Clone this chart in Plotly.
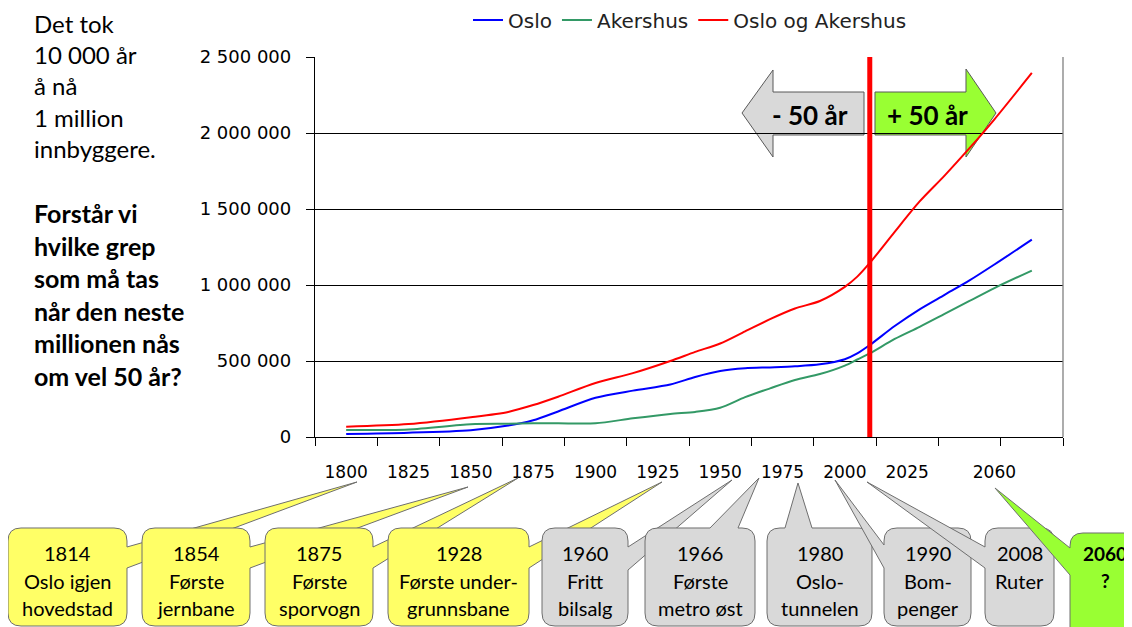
import plotly.graph_objects as go

# ---------------- data ----------------
years = [1800, 1825, 1850, 1865, 1875, 1885, 1900, 1915, 1930, 1940, 1950, 1960,
         1970, 1980, 1990, 2000, 2005, 2010, 2020, 2030, 2040, 2050, 2060, 2075]
oslo = [20000, 28000, 45000, 75000, 110000, 168000, 258000, 305000, 345000, 395000,
        434000, 452000, 458000, 465000, 478000, 512000, 550000, 605000, 730000,
        840000, 935000, 1030000, 1135000, 1298000]
akershus = [46000, 50000, 84000, 87000, 90000, 90000, 90000, 123000, 152000, 165000,
            192000, 262000, 320000, 375000, 414000, 470000, 510000, 550000, 645000,
            725000, 810000, 895000, 980000, 1095000]
oslo_og_akershus = [68000, 85000, 130000, 165000, 210000, 265000, 355000, 420000,
                    500000, 560000, 615000, 695000, 775000, 845000, 895000, 988000,
                    1055000, 1145000, 1350000, 1550000, 1720000, 1900000, 2090000,
                    2395000]
series_names = ["Oslo", "Akershus", "Oslo og Akershus"]

x_label_years = [1800, 1825, 1850, 1875, 1900, 1925, 1950, 1975, 2000, 2025, 2060]
x_label_text = ["1800", "1825", "1850", "1875", "1900", "1925", "1950", "1975",
                "2000", "2025", "2060"]
y_tick_vals = [0, 500000, 1000000, 1500000, 2000000, 2500000]
y_tick_text = ["0", "500 000", "1 000 000", "1 500 000", "2 000 000", "2 500 000"]

now_year = 2010

callout_titles = ["1814", "1854", "1875", "1928", "1960", "1966", "1980", "1990",
                  "2008", "2060"]
callout_lines = [["Oslo igjen", "hovedstad"], ["Første", "jernbane"],
                 ["Første", "sporvogn"], ["Første under-", "grunnsbane"],
                 ["Fritt", "bilsalg"], ["Første", "metro øst"],
                 ["Oslo-", "tunnelen"], ["Bom-", "penger"], ["Ruter"], ["?"]]

left_text_1 = ["Det tok", "10 000 år", "å nå", "1 million", "innbyggere."]
left_text_2 = ["Forstår vi", "hvilke grep", "som må tas", "når den neste",
               "millionen nås", "om vel 50 år?"]

# ---------------- layout helpers ----------------
W, H = 1132, 627
OFF = 8  # page body margin
PL, PR, PT, PB = 315 - OFF, 1063 - OFF, 57 - OFF, 437 - OFF


def px(x):
    return (x - OFF - PL) / (PR - PL)


def py(y):
    return (PB - (y - OFF)) / (PB - PT)


def P(x, y):
    return f"{px(x):.5f},{py(y):.5f}"


def callout_path(x0, x1, y0, y1, side, a, b, tip, r=13):
    s = "M" + P(x0 + r, y0)
    if side == "top":
        s += " L" + P(a, y0) + " L" + P(*tip) + " L" + P(b, y0)
    s += " L" + P(x1 - r, y0) + " Q" + P(x1, y0) + " " + P(x1, y0 + r)
    if side == "right":
        s += " L" + P(x1, a) + " L" + P(*tip) + " L" + P(x1, b)
    s += " L" + P(x1, y1 - r) + " Q" + P(x1, y1) + " " + P(x1 - r, y1)
    s += " L" + P(x0 + r, y1) + " Q" + P(x0, y1) + " " + P(x0, y1 - r)
    if side == "left":
        s += " L" + P(x0, b) + " L" + P(*tip) + " L" + P(x0, a)
    s += " L" + P(x0, y0 + r) + " Q" + P(x0, y0) + " " + P(x0 + r, y0) + " Z"
    return s


YELLOW, GRAY, GREEN = "#FFFF66", "#D9D9D9", "#99FF33"
# x0, x1, y0, y1, side, a, b, tip, fill   (screen pixels)
callout_geom = [
    (8, 127, 528, 626, "right", 547, 568, (357, 482), YELLOW),
    (142, 250, 528, 626, "right", 547, 568, (468, 487), YELLOW),
    (265, 373, 528, 626, "right", 547, 568, (518, 478), YELLOW),
    (388, 529, 528, 626, "right", 547, 568, (662, 482), YELLOW),
    (542, 628, 528, 626, "right", 547, 570, (732, 480), GRAY),
    (645, 755, 528, 626, "top", 710, 738, (759, 478), GRAY),
    (767, 872, 528, 626, "top", 785, 812, (798, 483), GRAY),
    (884, 971, 528, 626, "left", 545, 568, (835, 480), GRAY),
    (985, 1054, 528, 626, "left", 547, 568, (867, 482), GRAY),
    (1070, 1160, 533, 645, "left", 548, 575, (995, 488), GREEN),
]

fig = go.Figure()
colors = ["#0000FF", "#339966", "#FF0000"]
for name, vals, col in zip(series_names, [oslo, akershus, oslo_og_akershus], colors):
    fig.add_trace(go.Scatter(x=years, y=vals, name=name, mode="lines",
                             line=dict(color=col, width=2, shape="spline", smoothing=0.8)))

shapes = []
# arrows
shapes.append(dict(type="path", xref="paper", yref="paper", layer="between",
                   path="M" + P(742, 113) + " L" + P(773, 70) + " L" + P(773, 92) +
                        " L" + P(864, 92) + " L" + P(864, 135) + " L" + P(773, 135) +
                        " L" + P(773, 157) + " Z",
                   fillcolor=GRAY, line=dict(color="#595959", width=1)))
shapes.append(dict(type="path", xref="paper", yref="paper", layer="between",
                   path="M" + P(875, 92) + " L" + P(966, 92) + " L" + P(966, 69) +
                        " L" + P(996, 113) + " L" + P(966, 157) + " L" + P(966, 135) +
                        " L" + P(875, 135) + " Z",
                   fillcolor=GREEN, line=dict(color="#595959", width=1)))
# right border
shapes.append(dict(type="line", xref="paper", yref="paper", x0=1, x1=1, y0=0, y1=1,
                   line=dict(color="#808080", width=1.3)))
# now line
shapes.append(dict(type="line", xref="x", yref="y", x0=now_year, x1=now_year,
                   y0=0, y1=2530000, layer="above", line=dict(color="#FF0000", width=5)))
# callouts
for g in callout_geom:
    x0, x1, y0, y1, side, a, b, tip, fill = g
    shapes.append(dict(type="path", xref="paper", yref="paper", layer="above",
                       path=callout_path(x0, x1, y0, y1, side, a, b, tip),
                       fillcolor=fill, line=dict(color="#6E6E6E", width=1)))

annotations = []
for g, title, lines in zip(callout_geom, callout_titles, callout_lines):
    x0, x1 = g[0], g[1]
    bold = title == "2060"
    cx = 1105 if bold else (x0 + x1) / 2
    for i, t in enumerate([title] + lines):
        annotations.append(dict(xref="paper", yref="paper", x=px(cx), y=py(553 + 27.5 * i),
                                text=("<b>%s</b>" % t) if bold else t, showarrow=False,
                                xanchor="center", yanchor="middle",
                                font=dict(family="Lato", size=19 if bold else 20,
                                          color="black")))

annotations.append(dict(xref="paper", yref="paper", x=px(32), y=py(86),
                        text="<br>".join(left_text_1), showarrow=False, align="left",
                        xanchor="left", yanchor="middle",
                        font=dict(family="Lato", size=24, color="black")))
annotations.append(dict(xref="paper", yref="paper", x=px(32), y=py(294),
                        text="<b>" + "<br>".join(left_text_2) + "</b>", showarrow=False,
                        align="left", xanchor="left", yanchor="middle",
                        font=dict(family="Lato", size=25, color="black")))
annotations.append(dict(xref="paper", yref="paper", x=px(810), y=py(115),
                        xanchor="center", yanchor="middle",
                        text="<b>- 50 år</b>", showarrow=False,
                        font=dict(family="Lato", size=26, color="black")))
annotations.append(dict(xref="paper", yref="paper", x=px(927), y=py(115),
                        xanchor="center", yanchor="middle",
                        text="<b>+ 50 år</b>", showarrow=False,
                        font=dict(family="Lato", size=26, color="black")))

fig.update_layout(
    width=W, height=H,
    margin=dict(l=PL, r=W - PR, t=PT, b=H - PB, pad=0, autoexpand=False),
    paper_bgcolor="white", plot_bgcolor="white",
    showlegend=True,
    legend=dict(orientation="h", x=px(690), xanchor="center", y=py(20), yanchor="middle",
                font=dict(family="DejaVu Sans", size=20, color="#222222"),
                bgcolor="rgba(0,0,0,0)", itemwidth=30),
    xaxis=dict(range=[1787.5, 2087.5], tickmode="array", tickvals=x_label_years,
               ticktext=x_label_text, ticks="", showgrid=False, zeroline=False,
               showline=True, linecolor="black", linewidth=1.3,
               tickfont=dict(family="DejaVu Sans", size=17, color="black"),
               ticklabelstandoff=19,
               minor=dict(tickmode="linear", tick0=1787.5, dtick=25, ticks="outside",
                          ticklen=8, tickcolor="black", tickwidth=1.3, showgrid=False)),
    yaxis=dict(range=[0, 2500000], tickmode="array", tickvals=y_tick_vals,
               ticktext=y_tick_text, ticks="outside", ticklen=8, tickcolor="black",
               tickwidth=1.3, showgrid=True, gridcolor="black", gridwidth=1.2,
               zeroline=False, showline=True, linecolor="black", linewidth=1.3,
               tickfont=dict(family="DejaVu Sans", size=18, color="black"),
               ticklabelstandoff=11),
    shapes=shapes,
    annotations=annotations,
)

fig.write_html("out.html")
